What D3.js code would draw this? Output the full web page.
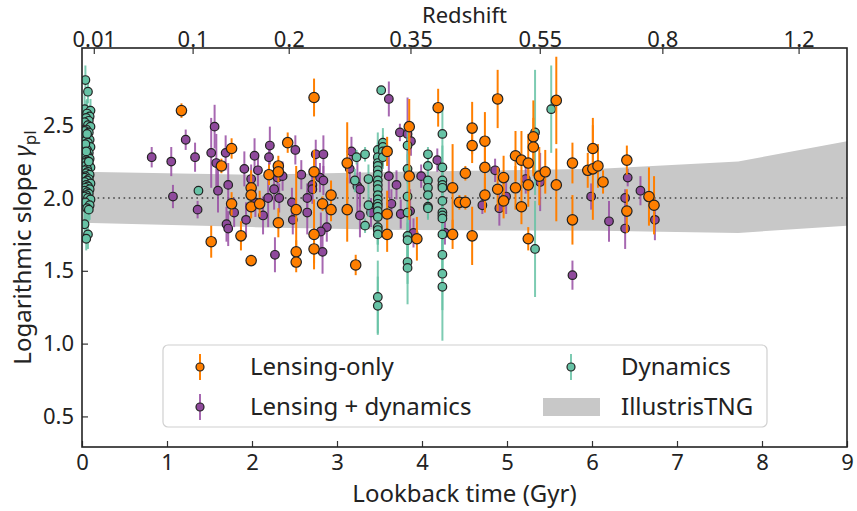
<!DOCTYPE html>
<html>
<head>
<meta charset="utf-8">
<script src="https://cdn.jsdelivr.net/npm/d3@7"></script>
<style>
  body { margin: 0; background: #fff; }
  text { font-family: "Noto Sans", sans-serif; fill: #222; }
</style>
</head>
<body>
<svg id="chart" width="857" height="511"></svg>
<script>
// [lookback time (Gyr), gamma_pl, 1-sigma error]
var lensingOnly = [
  [1.17,2.60,0.05],[1.52,1.70,0.11],[1.64,2.22,0.05],[1.76,2.34,0.07],[1.76,1.96,0.08],
  [1.87,1.74,0.10],[1.99,1.57,0.03],[1.99,2.07,0.12],[1.99,2.02,0.08],[1.99,1.94,0.08],
  [2.09,1.96,0.09],[2.20,2.16,0.07],[2.31,2.22,0.07],[2.31,2.18,0.07],[2.31,1.83,0.10],
  [2.42,2.38,0.07],[2.52,1.92,0.30],[2.52,1.63,0.08],[2.52,1.56,0.07],[2.73,2.69,0.13],
  [2.73,2.18,0.15],[2.73,1.75,0.24],[2.73,1.65,0.10],[2.83,1.96,0.05],[2.93,2.02,0.10],
  [2.93,1.92,0.08],[3.12,2.24,0.28],[3.12,1.92,0.22],[3.22,1.54,0.07],[3.59,2.32,0.10],
  [3.59,1.89,0.16],[3.59,1.75,0.12],[3.85,2.49,0.19],[3.85,2.15,0.30],[3.94,1.72,0.15],
  [4.19,2.62,0.13],[4.36,2.07,0.30],[4.36,1.75,0.10],[4.44,1.97,0.05],[4.51,1.97,0.05],
  [4.51,2.17,0.05],[4.59,2.48,0.18],[4.59,2.36,0.12],[4.59,1.74,0.20],[4.74,2.39,0.20],
  [4.74,2.21,0.15],[4.74,2.02,0.12],[4.89,2.68,0.20],[4.89,2.06,0.15],[4.96,2.14,0.15],
  [4.96,1.98,0.12],[5.10,2.29,0.17],[5.10,2.07,0.15],[5.17,2.26,0.20],[5.17,1.94,0.12],
  [5.25,2.24,0.20],[5.25,2.09,0.15],[5.25,1.72,0.08],[5.31,2.42,0.25],[5.31,2.35,0.20],
  [5.38,2.15,0.20],[5.45,2.18,0.15],[5.58,2.67,0.30],[5.58,2.09,0.25],[5.77,2.24,0.14],
  [5.77,1.85,0.17],[5.95,2.19,0.12],[6.01,2.34,0.16],[6.01,2.20,0.35],[6.07,2.22,0.15],
  [6.13,2.11,0.08],[6.41,2.26,0.10],[6.41,1.91,0.15],[6.67,2.01,0.20],[6.73,1.95,0.20]
];

var lensingDynamics = [
  [0.82,2.28,0.07],[1.05,2.25,0.10],[1.07,2.01,0.08],[1.22,2.40,0.07],[1.33,2.28,0.10],
  [1.36,1.92,0.06],[1.52,2.31,0.24],[1.56,2.49,0.15],[1.58,2.24,0.20],[1.60,2.05,0.15],
  [1.69,2.31,0.12],[1.72,2.09,0.15],[1.79,1.90,0.10],[1.70,1.82,0.12],[1.72,1.79,0.12],
  [1.91,2.20,0.12],[2.03,2.29,0.12],[2.07,2.19,0.11],[1.99,2.13,0.10],[2.04,1.97,0.10],
  [1.93,1.85,0.12],[2.13,1.88,0.13],[2.19,2.00,0.20],[2.26,2.06,0.14],[2.32,2.00,0.10],
  [2.27,1.61,0.12],[2.21,2.36,0.13],[2.20,2.28,0.10],[2.30,2.14,0.10],[2.36,2.15,0.10],
  [2.51,2.33,0.10],[2.58,2.16,0.10],[2.75,2.30,0.10],[2.84,2.30,0.13],[2.80,2.14,0.10],
  [2.84,2.12,0.10],[2.71,2.09,0.10],[2.71,2.06,0.10],[2.65,2.00,0.10],[2.47,1.97,0.10],
  [2.48,1.85,0.10],[2.65,1.90,0.15],[2.88,1.80,0.10],[2.81,1.77,0.13],[2.83,1.63,0.15],
  [3.17,2.32,0.10],[3.15,2.20,0.10],[3.24,2.08,0.20],[3.27,2.06,0.12],[3.27,1.88,0.15],
  [3.40,1.90,0.10],[3.61,2.68,0.12],[3.61,2.15,0.15],[3.70,2.09,0.10],[3.64,1.96,0.10],
  [3.75,1.89,0.10],[3.74,2.45,0.06],[3.83,2.44,0.25],[3.87,2.39,0.10],[3.86,1.91,0.15],
  [3.90,1.76,0.10],[3.99,2.15,0.08],[4.18,2.26,0.08],[4.27,1.76,0.08],[4.71,1.95,0.06],
  [4.86,2.19,0.08],[4.91,1.93,0.12],[4.99,2.01,0.12],[5.22,2.13,0.10],[5.39,2.11,0.20],
  [5.77,1.47,0.10],[5.99,2.01,0.09],[6.20,1.84,0.14],[6.42,2.14,0.06],[6.39,2.00,0.06],
  [6.39,1.79,0.14],[6.57,2.05,0.10],[6.74,1.85,0.14]
];

// local (z ~ 0.01) dynamical sample
var dynamicsLocal = [
  [0.04,2.81,0.10],[0.07,2.73,0.08],[0.03,2.61,0.10],[0.10,2.60,0.08],[0.06,2.58,0.10],
  [0.09,2.56,0.08],[0.05,2.55,0.12],[0.08,2.53,0.10],[0.03,2.52,0.10],[0.07,2.50,0.08],
  [0.10,2.49,0.10],[0.05,2.47,0.12],[0.03,2.46,0.10],[0.08,2.45,0.08],[0.06,2.43,0.10],
  [0.04,2.42,0.10],[0.09,2.40,0.08],[0.03,2.39,0.12],[0.07,2.38,0.10],[0.05,2.36,0.08],
  [0.10,2.35,0.10],[0.03,2.34,0.10],[0.06,2.33,0.12],[0.08,2.31,0.08],[0.04,2.30,0.10],
  [0.07,2.29,0.10],[0.03,2.28,0.08],[0.09,2.27,0.10],[0.05,2.26,0.12],[0.06,2.25,0.10],
  [0.03,2.24,0.08],[0.08,2.23,0.10],[0.04,2.22,0.10],[0.10,2.21,0.08],[0.06,2.20,0.10],
  [0.03,2.19,0.12],[0.07,2.18,0.10],[0.05,2.17,0.08],[0.09,2.16,0.10],[0.04,2.15,0.10],
  [0.03,2.14,0.08],[0.08,2.13,0.10],[0.06,2.12,0.12],[0.03,2.11,0.10],[0.10,2.10,0.08],
  [0.05,2.09,0.10],[0.07,2.08,0.10],[0.04,2.07,0.08],[0.09,2.06,0.10],[0.03,2.05,0.12],
  [0.06,2.04,0.10],[0.08,2.03,0.08],[0.05,2.02,0.10],[0.03,2.01,0.10],[0.07,2.00,0.08],
  [0.10,1.99,0.10],[0.04,1.97,0.12],[0.09,1.95,0.10],[0.06,1.93,0.10],[0.08,1.92,0.08],
  [0.03,1.82,0.10],[0.07,1.75,0.10],[0.05,1.72,0.08],[0.06,2.44,0.10],[0.04,2.37,0.10],
  [0.08,2.25,0.10],[0.05,2.32,0.10]
];

var dynamicsDistant = [
  [1.37,2.05,0.02],
  [3.48,2.33,0.12],[3.48,2.28,0.10],[3.48,2.24,0.10],[3.48,2.22,0.12],[3.48,2.19,0.10],
  [3.48,2.16,0.10],[3.48,2.12,0.12],[3.48,2.09,0.10],[3.48,2.06,0.10],[3.48,2.02,0.12],
  [3.48,1.99,0.10],[3.48,1.96,0.10],[3.48,1.94,0.12],[3.48,1.91,0.10],[3.48,1.87,0.10],
  [3.48,1.80,0.12],[3.48,1.78,0.10],[3.48,1.75,0.12],[3.48,1.32,0.25],[3.48,1.26,0.20],
  [3.54,2.38,0.10],[3.54,2.35,0.08],[3.54,2.32,0.10],[3.54,2.28,0.08],
  [3.52,2.74,0.03],[3.23,2.28,0.05],[3.33,2.30,0.05],[3.21,2.12,0.08],[3.37,2.13,0.10],
  [3.37,1.95,0.08],[3.33,1.81,0.05],
  [3.83,2.36,0.10],[3.83,2.20,0.10],[3.83,2.01,0.12],[3.83,1.90,0.15],[3.83,1.74,0.15],
  [3.83,1.71,0.12],[3.83,1.56,0.15],[3.83,1.52,0.25],
  [4.07,2.30,0.05],[4.07,2.22,0.05],[4.07,2.12,0.08],[4.07,2.07,0.08],[4.07,2.02,0.10],
  [4.07,1.94,0.08],[4.07,1.93,0.08],
  [4.24,2.44,0.20],[4.24,2.21,0.15],[4.24,2.12,0.10],[4.24,2.09,0.10],[4.24,2.07,0.10],
  [4.24,1.98,0.10],[4.24,1.90,0.10],[4.24,1.88,0.10],[4.24,1.86,0.12],[4.24,1.75,0.15],
  [4.24,1.61,0.20],[4.24,1.48,0.25],[4.24,1.39,0.37],
  [5.33,2.45,0.43],[5.52,2.61,0.30],[5.33,1.65,0.33]
];

// IllustrisTNG band (lookback time, lower, upper)
var tngTime  = [0, 2.0, 3.74, 6.1, 7.72, 9.0];
var tngLower = [1.83, 1.80, 1.78, 1.775, 1.76, 1.81];
var tngUpper = [2.18, 2.16, 2.18, 2.20, 2.25, 2.39];

var xTicks = [0, 1, 2, 3, 4, 5, 6, 7, 8, 9];
var yTicks = [0.5, 1.0, 1.5, 2.0, 2.5];
var zTicks = [0.01, 0.1, 0.2, 0.35, 0.55, 0.8, 1.2];

// lookback time for flat LCDM, H0=70, Om=0.3
function lookback(z) {
  var n = 400, h = z / n, s = 0;
  for (var i = 0; i <= n; i++) {
    var zz = i * h;
    var f = 1 / ((1 + zz) * Math.sqrt(0.3 * Math.pow(1 + zz, 3) + 0.7));
    s += (i === 0 || i === n) ? f / 2 : f;
  }
  return s * h * 977.8 / 70;
}

var svg = d3.select("#chart");
var pLeft = 82, pRight = 847, pTop = 48, pBottom = 447;

var x = d3.scaleLinear().domain([0, 9]).range([pLeft, pRight]);
var y = d3.scaleLinear().domain([0.29, 3.03]).range([pBottom, pTop]);

svg.append("clipPath").attr("id", "plotclip")
  .append("rect").attr("x", pLeft).attr("y", pTop)
  .attr("width", pRight - pLeft).attr("height", pBottom - pTop);

var plot = svg.append("g").attr("clip-path", "url(#plotclip)");

// TNG band
var band = tngTime.map(function(t, i) { return {t: t, lo: tngLower[i], hi: tngUpper[i]}; });
plot.append("path").datum(band)
  .attr("fill", "#c8c8c8")
  .attr("d", d3.area()
    .x(function(d) { return x(d.t); })
    .y0(function(d) { return y(d.lo); })
    .y1(function(d) { return y(d.hi); }));

// gamma = 2 reference
plot.append("line")
  .attr("x1", pLeft).attr("x2", pRight)
  .attr("y1", y(2)).attr("y2", y(2))
  .attr("stroke", "#444").attr("stroke-width", 1.6)
  .attr("stroke-dasharray", "1.6,3.6");

function drawSeries(data, col, barCol, r) {
  var g = plot.append("g");
  g.selectAll("line").data(data).enter().append("line")
    .attr("x1", function(d) { return x(d[0]); })
    .attr("x2", function(d) { return x(d[0]); })
    .attr("y1", function(d) { return y(d[1] - d[2]); })
    .attr("y2", function(d) { return y(d[1] + d[2]); })
    .attr("stroke", barCol).attr("stroke-width", 2);
  g.selectAll("circle").data(data).enter().append("circle")
    .attr("cx", function(d) { return x(d[0]); })
    .attr("cy", function(d) { return y(d[1]); })
    .attr("r", r)
    .attr("fill", col).attr("stroke", "#222").attr("stroke-width", 1.2);
}

var orange = "#ff7f00", purple = "#8f4a9c", green = "#66c2a5";
drawSeries(lensingDynamics, purple, "rgba(152,78,163,0.85)", 4.3);
drawSeries(dynamicsLocal, green, "rgba(102,194,165,0.85)", 4.3);
drawSeries(dynamicsDistant, green, "rgba(102,194,165,0.85)", 4.3);
drawSeries(lensingOnly, orange, orange, 5.2);

// axes (ticks pointing inward)
var ax = svg.append("g").attr("transform", "translate(0," + pBottom + ")")
  .call(d3.axisBottom(x).tickValues(xTicks).tickSize(-6).tickPadding(7).tickFormat(d3.format("d")));
var ay = svg.append("g").attr("transform", "translate(" + pLeft + ",0)")
  .call(d3.axisLeft(y).tickValues(yTicks).tickSize(-6).tickPadding(8).tickFormat(d3.format(".1f")));
var az = svg.append("g").attr("transform", "translate(0," + pTop + ")")
  .call(d3.axisTop(x).tickValues(zTicks.map(lookback)).tickSize(-6).tickPadding(1)
    .tickFormat(function(d, i) { return zTicks[i]; }));

[ax, ay, az].forEach(function(a) {
  a.select(".domain").remove();
  a.selectAll(".tick line").attr("stroke", "#333").attr("stroke-width", 1.2);
  a.selectAll(".tick text").attr("font-size", 22).attr("fill", "#222")
    .style("font-family", "'Noto Sans', sans-serif");
});

svg.append("rect").attr("x", pLeft).attr("y", pTop)
  .attr("width", pRight - pLeft).attr("height", pBottom - pTop)
  .attr("fill", "none").attr("stroke", "#222").attr("stroke-width", 1.6);

// labels
svg.append("text").attr("x", (pLeft + pRight) / 2).attr("y", 502)
  .attr("text-anchor", "middle").attr("font-size", 24).text("Lookback time (Gyr)");
svg.append("text").attr("x", (pLeft + pRight) / 2).attr("y", 23)
  .attr("text-anchor", "middle").attr("font-size", 22).text("Redshift");
var yl = svg.append("text")
  .attr("transform", "translate(31," + ((pTop + pBottom) / 2) + ") rotate(-90)")
  .attr("text-anchor", "middle").attr("font-size", 24);
yl.append("tspan").text("Logarithmic slope ");
yl.append("tspan").attr("font-style", "italic").text("γ");
yl.append("tspan").attr("font-size", 17).attr("dy", 5).text("pl");

// legend
var lg = svg.append("g");
lg.append("rect").attr("x", 163).attr("y", 345).attr("width", 604).attr("height", 82)
  .attr("rx", 5).attr("fill", "rgba(255,255,255,0.85)").attr("stroke", "#d0d0d0").attr("stroke-width", 1.2);

var legendItems = [
  {label: "Lensing-only", col: orange, bar: orange, lx: 200, ly: 367},
  {label: "Lensing + dynamics", col: purple, bar: "rgba(152,78,163,0.85)", lx: 200, ly: 407},
  {label: "Dynamics", col: green, bar: "rgba(102,194,165,0.85)", lx: 571, ly: 367}
];
legendItems.forEach(function(d) {
  lg.append("line").attr("x1", d.lx).attr("x2", d.lx).attr("y1", d.ly - 13).attr("y2", d.ly + 13)
    .attr("stroke", d.bar).attr("stroke-width", 2);
  lg.append("circle").attr("cx", d.lx).attr("cy", d.ly).attr("r", 4)
    .attr("fill", d.col).attr("stroke", "#222").attr("stroke-width", 1.2);
  lg.append("text").attr("x", d.lx + 50).attr("y", d.ly + 8).attr("font-size", 24).text(d.label);
});
lg.append("rect").attr("x", 543).attr("y", 398).attr("width", 57).attr("height", 18).attr("fill", "#c8c8c8");
lg.append("text").attr("x", 621).attr("y", 415).attr("font-size", 24).text("IllustrisTNG");
</script>
</body>
</html>
